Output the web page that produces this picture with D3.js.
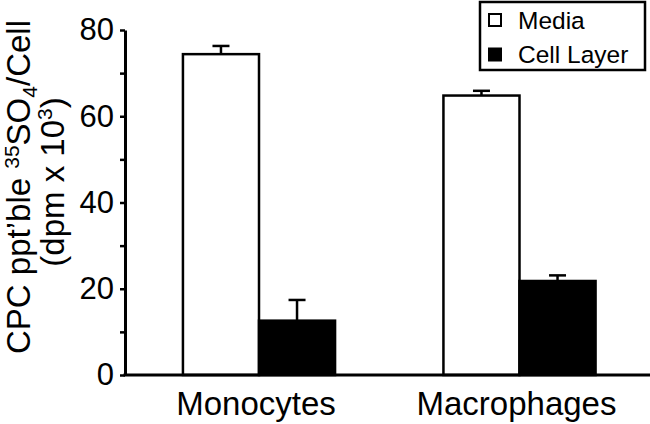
<!DOCTYPE html>
<html>
<head>
<meta charset="utf-8">
<script src="https://cdn.jsdelivr.net/npm/d3@7"></script>
<style>
  body { margin: 0; background: #fff; }
  svg { display: block; font-family: "Liberation Sans", Arial, sans-serif; }
</style>
</head>
<body>
<div id="chart"></div>
<script>
// data
const categories = ["Monocytes", "Macrophages"];
const seriesNames = ["Media", "Cell Layer"];
const mediaValues = [74.4, 64.8];
const mediaErrors = [1.9, 1.1];
const cellLayerValues = [12.6, 21.8];
const cellLayerErrors = [4.8, 1.3];
const tickValues = [0, 10, 20, 30, 40, 50, 60, 70, 80];
const labelledTicks = [0, 20, 40, 60, 80];

const width = 650;
const height = 424;

const rows = categories.map((c, i) => ({
  category: c,
  bars: [
    { key: "Media", value: mediaValues[i], err: mediaErrors[i] },
    { key: "Cell Layer", value: cellLayerValues[i], err: cellLayerErrors[i] }
  ]
}));

const svg = d3.select("#chart").append("svg")
  .attr("width", width)
  .attr("height", height);

const axisX = 125;
const baseY = 375;

// scales
const y = d3.scaleLinear().domain([0, 80]).range([baseY, 30]);

const x0 = d3.scaleBand()
  .domain(categories)
  .range([128.75, 649.75])
  .paddingInner(0.416)
  .paddingOuter(0.208);

const x1 = d3.scaleBand()
  .domain(seriesNames)
  .range([0, x0.bandwidth()]);

const fill = d3.scaleOrdinal().domain(seriesNames).range(["#fff", "#000"]);

// bars
const groups = svg.append("g").selectAll("g")
  .data(rows)
  .enter().append("g")
  .attr("transform", d => `translate(${x0(d.category)},0)`);

groups.selectAll("rect")
  .data(d => d.bars)
  .enter().append("rect")
  .attr("x", d => x1(d.key))
  .attr("y", d => y(d.value))
  .attr("width", x1.bandwidth())
  .attr("height", d => baseY - y(d.value))
  .attr("fill", d => fill(d.key))
  .attr("stroke", "#000")
  .attr("stroke-width", 2.5);

// error bars (upper only)
const err = groups.selectAll("g.err")
  .data(d => d.bars)
  .enter().append("g")
  .attr("class", "err")
  .attr("stroke", "#000")
  .attr("stroke-width", 2.5);

err.append("line")
  .attr("x1", d => x1(d.key) + x1.bandwidth() / 2)
  .attr("x2", d => x1(d.key) + x1.bandwidth() / 2)
  .attr("y1", d => y(d.value))
  .attr("y2", d => y(d.value + d.err));

err.append("line")
  .attr("x1", d => x1(d.key) + x1.bandwidth() / 2 - 8.5)
  .attr("x2", d => x1(d.key) + x1.bandwidth() / 2 + 8.5)
  .attr("y1", d => y(d.value + d.err))
  .attr("y2", d => y(d.value + d.err));

// y axis
const yAxis = svg.append("g")
  .attr("transform", `translate(${axisX},0)`)
  .call(d3.axisLeft(y)
    .tickValues(tickValues)
    .tickSize(5)
    .tickPadding(6)
    .tickSizeOuter(0)
    .tickFormat(d => labelledTicks.includes(d) ? d : ""));

yAxis.select(".domain").attr("stroke-width", 3);
yAxis.selectAll(".tick line").attr("stroke-width", 2.5);
yAxis.selectAll(".tick text")
  .attr("font-size", 31)
  .attr("font-family", "Liberation Sans, Arial, sans-serif")
  .attr("fill", "#000");

// x axis baseline
svg.append("line")
  .attr("x1", axisX - 1.5)
  .attr("x2", width)
  .attr("y1", baseY)
  .attr("y2", baseY)
  .attr("stroke", "#000")
  .attr("stroke-width", 3);

// category labels
svg.append("g").selectAll("text")
  .data(categories)
  .enter().append("text")
  .attr("x", d => x0(d) + x0.bandwidth() / 2 - 3)
  .attr("y", 415)
  .attr("text-anchor", "middle")
  .attr("font-size", 33)
  .text(d => d);

// y axis title, two rotated lines
const t1 = svg.append("text")
  .attr("transform", "translate(30,187) rotate(-90)")
  .attr("text-anchor", "middle")
  .attr("font-size", 33);
t1.append("tspan").text("CPC ppt\u2019ble ");
t1.append("tspan").attr("font-size", 21).attr("dy", -11).text("35");
t1.append("tspan").attr("dy", 11).text("SO");
t1.append("tspan").attr("font-size", 21).attr("dy", 7).text("4");
t1.append("tspan").attr("dy", -7).text("/Cell");

const t2 = svg.append("text")
  .attr("transform", "translate(64,182) rotate(-90)")
  .attr("text-anchor", "middle")
  .attr("font-size", 33);
t2.append("tspan").text("(dpm x 10");
t2.append("tspan").attr("font-size", 21).attr("dy", -12).text("3");
t2.append("tspan").attr("dy", 12).text(")");

// legend
const legend = svg.append("g");
legend.append("rect")
  .attr("x", 480)
  .attr("y", 2)
  .attr("width", 165)
  .attr("height", 68)
  .attr("fill", "#fff")
  .attr("stroke", "#000")
  .attr("stroke-width", 2.5);

const items = legend.selectAll("g.item")
  .data(seriesNames)
  .enter().append("g")
  .attr("class", "item")
  .attr("transform", (d, i) => `translate(0,${i * 34.5})`);

items.append("rect")
  .attr("x", 489)
  .attr("y", 14)
  .attr("width", 12)
  .attr("height", 12)
  .attr("fill", d => fill(d))
  .attr("stroke", "#000")
  .attr("stroke-width", 2);

items.append("text")
  .attr("x", 518)
  .attr("y", 28.5)
  .attr("font-size", 24.5)
  .text(d => d);
</script>
</body>
</html>
